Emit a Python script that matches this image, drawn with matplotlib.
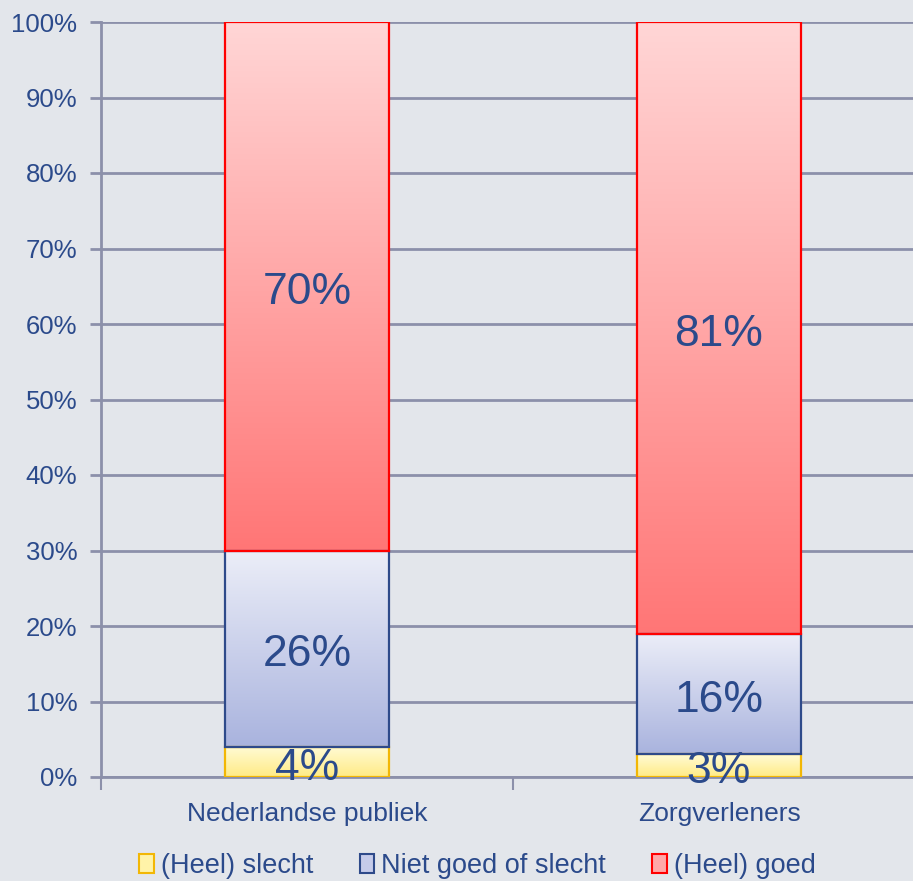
import matplotlib.pyplot as plt
import numpy as np
from matplotlib.colors import LinearSegmentedColormap

plt.rcParams['font.family'] = ['Liberation Sans', 'DejaVu Sans']

categories = ['Nederlandse publiek', 'Zorgverleners']
series_names = ['(Heel) slecht', 'Niet goed of slecht', '(Heel) goed']
slecht = [4, 3]
neutraal = [26, 16]
goed = [70, 81]
y_ticks = [0, 10, 20, 30, 40, 50, 60, 70, 80, 90, 100]

text_col = '#2B4A8B'
grid_col = '#8C90AA'
bg = '#E3E6EB'
# (top colour, bottom colour, edge colour, legend fill)
styles = [('#FFFBD6', '#FFEB85', '#F2B705', '#FFF3A8'),
          ('#ECEEF8', '#A9B3DE', '#2E4A8A', '#C5CBEA'),
          ('#FFD6D6', '#FF7676', '#FF0000', '#FFA8A8')]

fig = plt.figure(figsize=(9.13, 8.81), dpi=100)
fig.patch.set_facecolor(bg)
ax = fig.add_axes([101 / 913, 1 - 777 / 881, 824 / 913, 755 / 881])
ax.set_facecolor(bg)

x = np.arange(len(categories))
width = 0.4
bottom = np.zeros(len(categories))
for vals, (top_c, bot_c, edge_c, _) in zip([slecht, neutraal, goed], styles):
    bars = ax.bar(x, vals, width, bottom=bottom, color='none',
                  edgecolor=edge_c, linewidth=1.6, zorder=4)
    cmap = LinearSegmentedColormap.from_list('g', [bot_c, top_c])
    grad = np.linspace(0, 1, 256).reshape(-1, 1)
    for b in bars:
        x0, y0 = b.get_x(), b.get_y()
        im = ax.imshow(grad, cmap=cmap, origin='lower', aspect='auto',
                       extent=[x0, x0 + b.get_width(), y0, y0 + b.get_height()],
                       zorder=3)
        im.set_clip_path(b)
    for xi, v, b0 in zip(x, vals, bottom):
        ax.annotate(f'{v}%', (xi, b0 + v / 2), xytext=(0, -4.5),
                    textcoords='offset points', ha='center', va='center',
                    fontsize=32, color=text_col, zorder=5)
    bottom = bottom + np.array(vals)

ax.set_xlim(-0.5, 1.5)
ax.set_ylim(0, 100)
ax.set_yticks(y_ticks)
ax.set_yticklabels([f'{t}%' for t in y_ticks])
ax.yaxis.grid(True, color=grid_col, linewidth=2)
ax.set_axisbelow(True)
ax.set_xticks([-0.5, 0.5, 1.5])
ax.set_xticklabels([])
ax.set_xticks(x, minor=True)
ax.set_xticklabels(categories, minor=True)
ax.tick_params(axis='x', which='minor', length=0, pad=18, labelsize=19,
               labelcolor=text_col)
ax.tick_params(axis='x', which='major', length=9, width=1.5, color=grid_col)
ax.tick_params(axis='y', length=8, width=2, color=grid_col, labelsize=18.5,
               labelcolor=text_col, pad=9)
for s in ['top', 'right']:
    ax.spines[s].set_visible(False)
ax.spines['left'].set_color(grid_col)
ax.spines['left'].set_linewidth(2)
ax.spines['bottom'].set_color(grid_col)
ax.spines['bottom'].set_linewidth(2)

handles = [plt.Rectangle((0, 0), 1, 1, facecolor=s[3], edgecolor=s[2], linewidth=1.5)
           for s in styles]
leg = fig.legend(handles, series_names, loc='lower center', bbox_to_anchor=(0.523, -0.025),
                 ncol=3, frameon=False, fontsize=19.5, handlelength=0.55, handleheight=0.7,
                 handletextpad=0.25, columnspacing=1.7)
for t in leg.get_texts():
    t.set_color(text_col)

fig.savefig('out.png', dpi=100, facecolor=bg)
